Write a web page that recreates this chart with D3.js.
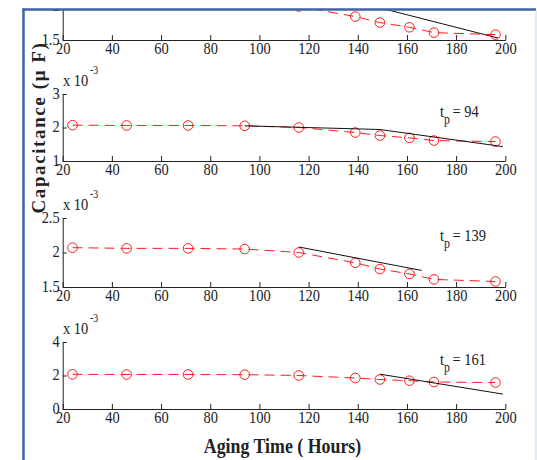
<!DOCTYPE html>
<html>
<head>
<meta charset="utf-8">
<title>Capacitance vs Aging Time</title>
<script src="https://d3js.org/d3.v7.min.js"></script>
<style>
    body { margin: 0; background: #fff; }
    text { font-family: 'Liberation Serif', 'Times New Roman', serif; fill: #222; }
</style>
</head>
<body>
<svg id="chart" width="537" height="460"></svg>
<script>
// measured points (same capacitor in every panel)
const hours = [24, 46, 71, 94, 116, 139, 149, 161, 171, 196];
const capacitance = [2.07, 2.06, 2.06, 2.05, 2.0, 1.85, 1.76, 1.69, 1.61, 1.58];

// one entry per panel, top to bottom
const tpLabels = [null, 94, 139, 161];
const yDomains = [[1.5, 2.5], [1, 3], [1.5, 2.5], [0, 4]];
const yTickValues = [[1.5, 2, 2.5], [1, 2, 3], [1.5, 2, 2.5], [0, 2, 4]];
const predictions = [
    [[149, 1.98], [197, 1.53]],
    [[94, 2.05], [149, 1.94], [199, 1.43]],
    [[116, 2.08], [166, 1.74]],
    [[149, 2.08], [199, 0.89]]
];
const xTickValues = [20, 40, 60, 80, 100, 120, 140, 160, 180, 200];

var width = 537, height = 460;
var panelTop = [-27, 94, 218, 342],
    panelBottom = [40, 161, 287, 409];
var squeezeX = 0.85;   // the source figure is stretched vertically, text looks tall

var svg = d3.select("#chart");

svg.append("defs").append("clipPath").attr("id", "frame")
    .append("rect").attr("x", 24).attr("y", 10).attr("width", 512).attr("height", 450);

var root = svg.append("g").attr("clip-path", "url(#frame)");

var x = d3.scaleLinear().domain([20, 200]).range([62.7, 505.3]);

var points = hours.map((h, i) => [h, capacitance[i]]);

// move x/y of a text into a transform so it can be narrowed
function squeeze(sel) {
    sel.each(function() {
        var t = d3.select(this);
        var tx = +t.attr("x") || 0, ty = +t.attr("y") || 0;
        t.attr("x", 0).attr("y", 0)
         .attr("transform", "translate(" + tx + "," + ty + ") scale(" + squeezeX + ",1)");
    });
}

yDomains.forEach(function(dom, i) {
    var y = d3.scaleLinear().domain(dom).range([panelBottom[i], panelTop[i]]);
    var g = root.append("g");

    // axes, ticks pointing inward like matlab
    var xa = g.append("g")
        .attr("transform", "translate(0," + panelBottom[i] + ")")
        .call(d3.axisBottom(x).tickValues(xTickValues).tickSizeInner(-5).tickSizeOuter(0).tickPadding(2));
    var ya = g.append("g")
        .attr("transform", "translate(" + x.range()[0] + ",0)")
        .call(d3.axisLeft(y).tickValues(yTickValues[i]).tickFormat(d3.format("")).tickSizeInner(-4).tickSizeOuter(0).tickPadding(3));
    [xa, ya].forEach(function(a) {
        a.attr("font-family", null).attr("font-size", null);
        a.selectAll("path, line").attr("stroke", "#222");
        a.selectAll("text").style("font-size", "17px").attr("fill", "#222");
    });
    ya.selectAll("text").attr("dy", "0.25em");
    squeeze(xa.selectAll("text"));
    squeeze(ya.selectAll("text"));

    // exponent label
    g.append("text")
        .attr("x", 63).attr("y", panelTop[i] - 8)
        .style("font-size", "17px")
        .text("x 10")
        .call(squeeze);
    g.append("text")
        .attr("x", 90).attr("y", panelTop[i] - 20)
        .style("font-size", "11.5px")
        .text("-3")
        .call(squeeze);

    // measured data, red dashed with circles
    var line = d3.line().x(d => x(d[0])).y(d => y(d[1]));
    g.append("path")
        .datum(points)
        .attr("d", line)
        .attr("fill", "none")
        .attr("stroke", "#ff1a1a")
        .attr("stroke-width", 1)
        .attr("stroke-dasharray", "10,6");
    g.selectAll("circle")
        .data(points)
        .enter().append("circle")
        .attr("cx", d => x(d[0]))
        .attr("cy", d => y(d[1]))
        .attr("r", 4.8)
        .attr("fill", "none")
        .attr("stroke", "#ff1a1a")
        .attr("stroke-width", 1);

    // prediction from tp
    g.append("path")
        .datum(predictions[i])
        .attr("d", line)
        .attr("fill", "none")
        .attr("stroke", "#111")
        .attr("stroke-width", 1);

    if (tpLabels[i] !== null) {
        var t = g.append("text")
            .attr("x", 440).attr("y", panelTop[i] + 23)
            .style("font-size", "17px");
        t.append("tspan").text("t");
        t.append("tspan").attr("dy", 7).style("font-size", "14px").text("p");
        t.append("tspan").attr("dy", -7).attr("dx", 3).text("= " + tpLabels[i]);
        squeeze(t);
    }
});

// axis titles
root.append("text")
    .attr("transform", "translate(45,127.5) rotate(-90)")
    .attr("text-anchor", "middle")
    .style("font-size", "19px")
    .style("font-weight", "bold")
    .style("letter-spacing", "1.6px")
    .text("Capacitance (\u03bc F)");

root.append("text")
    .attr("x", 282.5).attr("y", 453)
    .attr("text-anchor", "middle")
    .style("font-size", "21px")
    .style("font-weight", "bold")
    .text("Aging Time ( Hours)")
    .call(squeeze);

// the surrounding frame
svg.append("line").attr("x1", 23.5).attr("x2", 23.5).attr("y1", 8.5).attr("y2", height)
    .attr("stroke", "#3d65a0").attr("stroke-width", 2.5);
svg.append("line").attr("x1", 22.5).attr("x2", 536).attr("y1", 9.5).attr("y2", 9.5)
    .attr("stroke", "#3d65a0").attr("stroke-width", 2.5);
svg.append("line").attr("x1", 536).attr("x2", 536).attr("y1", 10).attr("y2", height)
    .attr("stroke", "#c5d5ea").attr("stroke-width", 1);
</script>
</body>
</html>
